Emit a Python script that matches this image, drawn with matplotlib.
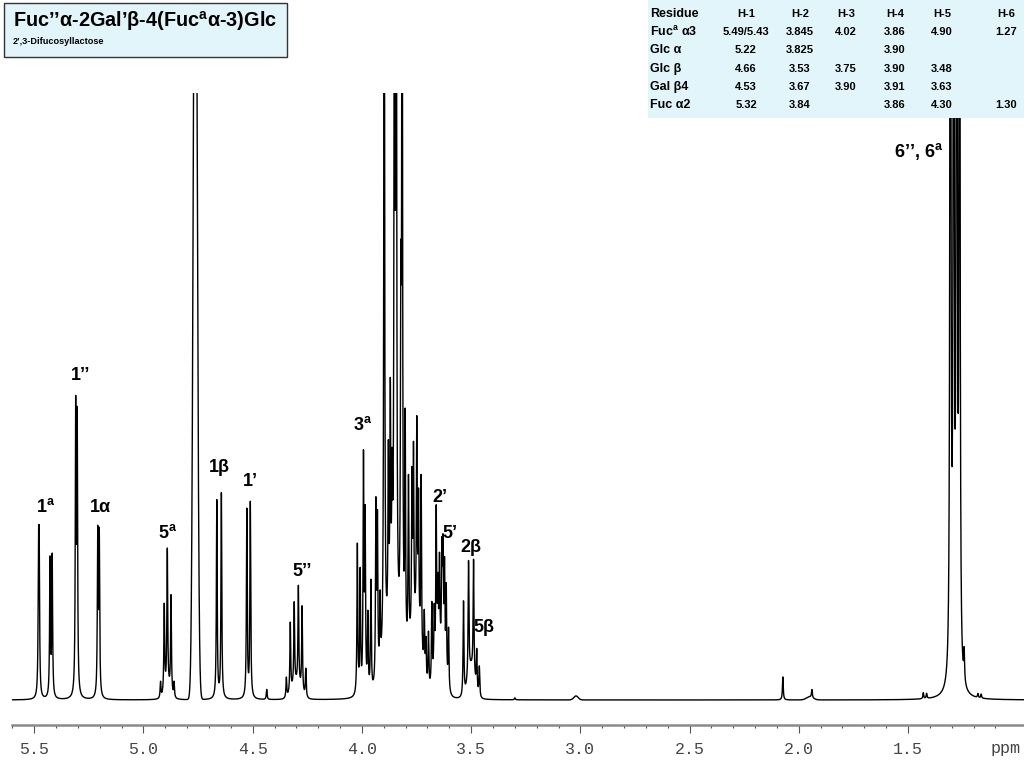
import matplotlib
matplotlib.use("Agg")
import matplotlib.pyplot as plt
import numpy as np
from matplotlib.patches import Rectangle
from matplotlib.ticker import FixedLocator

plt.rcParams['font.family'] = ['Liberation Sans', 'DejaVu Sans']
plt.rcParams['mathtext.fontset'] = 'custom'
plt.rcParams['mathtext.rm'] = 'Liberation Sans'
plt.rcParams['mathtext.bf'] = 'Liberation Sans:bold'

# sharp lines: shift (ppm), height, half width (ppm)
line_ppm = [5.4805, 5.4775, 5.428, 5.418,
            5.3105, 5.3035, 5.2095, 5.2025,
            4.922, 4.905, 4.891, 4.874, 4.860,
            4.6645, 4.6435, 4.527, 4.511, 4.436,
            4.346, 4.328, 4.310, 4.291, 4.274, 4.257,
            4.021, 4.008, 3.993, 3.9855, 3.973, 3.959, 3.936, 3.929, 3.917,
            3.898, 3.879, 3.870, 3.862, 3.851, 3.843, 3.822, 3.816, 3.802,
            3.787, 3.771, 3.764, 3.749, 3.741, 3.729,
            3.7146, 3.707, 3.6955, 3.680, 3.669, 3.660, 3.6525, 3.645,
            3.634, 3.629, 3.622, 3.614, 3.6035,
            3.535, 3.512, 3.489, 3.4745, 3.4625,
            3.30, 2.073, 1.940, 1.430, 1.415, 1.180, 1.165,
            1.306, 1.291, 1.277, 1.264, 1.243]
line_h = [126, 126, 137, 140,
          280, 268, 160, 158,
          16, 88, 138, 98, 15,
          198, 205, 188, 195, 10,
          20, 70, 82, 98, 85, 28,
          150, 120, 230, 170, 75, 110, 175, 155, 70,
          900, 170, 220, 120, 900, 900, 300, 850, 230,
          170, 150, 170, 200, 130, 175,
          60, 40, 55, 80, 60, 150, 65, 90,
          100, 105, 100, 90, 60,
          95, 115, 115, 40, 30,
          2, 23, 8, 6, 5, 4, 4,
          1400, 1300, 1400, 1200, 30]
line_w = [0.0022] * len(line_ppm)

# broad parts: residual water and unresolved envelopes (centre, height, sigma)
hump_ppm = [4.763, 3.860, 3.755, 3.645, 3.500, 4.300, 4.890, 3.020, 1.950]
hump_h = [950, 60, 65, 40, 30, 15, 10, 4, 3]
hump_s = [0.0085, 0.035, 0.025, 0.020, 0.015, 0.020, 0.012, 0.010, 0.015]

# peak assignments (label, ppm, height)
labels = [(r'1$^{\mathbf{a}}$', 5.446, 193), ('1’’', 5.286, 325), ('1α', 5.199, 193),
          (r'5$^{\mathbf{a}}$', 4.888, 167), ('1β', 4.654, 233), ('1’', 4.512, 218),
          ('5’’', 4.274, 128), (r'3$^{\mathbf{a}}$', 3.995, 275), ('2’', 3.642, 202),
          ('5’', 3.596, 167), ('2β', 3.500, 152), ('5β', 3.440, 73),
          (r'6’’, 6$^{\mathbf{a}}$', 1.452, 548)]

# shift table
tab_cols = ['Residue', 'H-1', 'H-2', 'H-3', 'H-4', 'H-5', 'H-6']
tab_rows = [[r'Fuc$^{\mathbf{a}}$ α3', '5.49/5.43', '3.845', '4.02', '3.86', '4.90', '1.27'],
            ['Glc α', '5.22', '3.825', '', '3.90', '', ''],
            ['Glc β', '4.66', '3.53', '3.75', '3.90', '3.48', ''],
            ['Gal β4', '4.53', '3.67', '3.90', '3.91', '3.63', ''],
            ['Fuc α2', '5.32', '3.84', '', '3.86', '4.30', '1.30']]

ticks_major = [5.5, 5.0, 4.5, 4.0, 3.5, 3.0, 2.5, 2.0, 1.5]

x = np.linspace(5.602, 0.969, 40000)
spec = np.zeros_like(x)
for p, h, w in zip(line_ppm, line_h, line_w):
    spec += h * w**2 / ((x - p)**2 + w**2)
for c, h, s in zip(hump_ppm, hump_h, hump_s):
    spec += h * np.exp(-(x - c)**2 / (2 * s**2))

W, H = 1024, 768
fig = plt.figure(figsize=(W / 100, H / 100), dpi=100)
ax = fig.add_axes([12 / W, 1 - 708 / H, 1012 / W, 615 / H])
ax.plot(x, spec, color='black', lw=1.0)
ax.set_xlim(5.602, 0.969)
ax.set_ylim(-8, 607)

for s in ['top', 'left', 'right']:
    ax.spines[s].set_visible(False)
ax.spines['bottom'].set_position(('outward', 12.2))
ax.spines['bottom'].set_color('#8a8a8a')
ax.spines['bottom'].set_linewidth(1.8)
ax.set_yticks([])
ax.xaxis.set_major_locator(FixedLocator(ticks_major))
minors = [round(5.6 - 0.1 * i, 1) for i in range(46)]
ax.xaxis.set_minor_locator(FixedLocator([m for m in minors if m not in ticks_major]))
ax.set_xticklabels([f'{t:.1f}' for t in ticks_major])
ax.tick_params(axis='x', which='major', length=6, width=0.8, color='#555', pad=6,
               labelsize=12, labelcolor='#444')
ax.tick_params(axis='x', which='minor', length=2.5, width=0.8, color='#555')
for lab in ax.get_xticklabels():
    lab.set_family('Liberation Mono')
fig.text(1021 / W, 1 - 748 / H, 'ppm', family='Liberation Mono', fontsize=12,
         color='#444', va='center', ha='right')

for txt, p, h in labels:
    ax.text(p, h, txt, fontsize=13, fontweight='bold', ha='center', va='center')

# title box
fig.patches.append(Rectangle((4 / W, 1 - 57 / H), 283 / W, 54 / H, transform=fig.transFigure,
                             facecolor='#e2f5fa', edgecolor='#333333', lw=1, zorder=5))
fig.text(13 / W, 1 - 21 / H, r'Fuc’’α-2Gal’β-4(Fuc$^{\mathbf{a}}$α-3)Glc', fontsize=14.3,
         fontweight='bold', va='center', zorder=6)
fig.text(13 / W, 1 - 42 / H, '2’,3-Difucosyllactose', fontsize=6.6, fontweight='bold',
         va='center', zorder=6)

# shift table
fig.patches.append(Rectangle((648 / W, 1 - 118 / H), 376 / W, 118 / H, transform=fig.transFigure,
                             facecolor='#e2f5fa', edgecolor='none', zorder=5))
col_x = [650, 746, 800, 846, 895, 942, 1006]
row_y = [14, 32, 50, 69, 87, 105]
for j, name in enumerate(tab_cols):
    fig.text(col_x[j] / W, 1 - row_y[0] / H, name, fontsize=9 if j == 0 else 8,
             fontweight='bold', ha='left' if j == 0 else 'center', va='center', zorder=6)
for i, row in enumerate(tab_rows):
    for j, val in enumerate(row):
        fig.text(col_x[j] / W, 1 - row_y[i + 1] / H, val, fontsize=9 if j == 0 else 8,
                 fontweight='bold', ha='left' if j == 0 else 'center', va='center', zorder=6)

fig.savefig('out.png', dpi=100)
